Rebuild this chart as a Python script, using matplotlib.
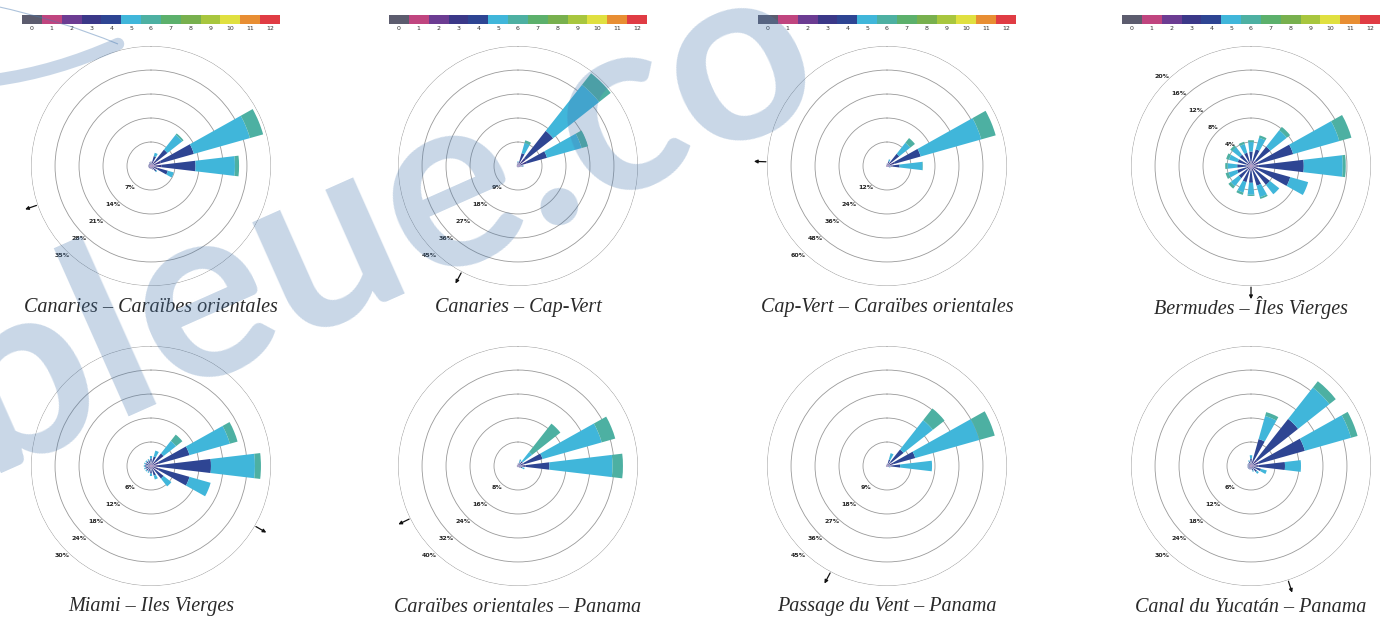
import numpy as np
import matplotlib
matplotlib.use("Agg")
import matplotlib.pyplot as plt
from matplotlib.colors import ListedColormap
from matplotlib.path import Path
from matplotlib.patches import PathPatch

# Beaufort force colour scale (0 .. 12)
beaufort_labels = [str(i) for i in range(13)]
beaufort_colors = ['#5c5c6e', '#c0457f', '#6c3c92', '#3b3888', '#2e4593',
                   '#40b6da', '#4db0a2', '#5cb06c', '#78b04e', '#a8c63e',
                   '#e0e040', '#e88e33', '#e03c44']

# 16 compass sectors, clockwise from north
directions = ['N', 'NNE', 'NE', 'ENE', 'E', 'ESE', 'SE', 'SSE',
              'S', 'SSW', 'SW', 'WSW', 'W', 'WNW', 'NW', 'NNW']
forces = [2, 3, 4, 5, 6]

# Frequency (%) per sector, one row per Beaufort force 2..6
canaries_caraibes = [
    [0.4, 0.5, 0.6, 0.8, 0.8, 0.6, 0.5, 0.4, 0.4, 0.4, 0.4, 0.4, 0.4, 0.4, 0.4, 0.4],
    [0.6, 1.0, 1.5, 2.2, 2.2, 1.5, 0.8, 0.5, 0.4, 0.4, 0.4, 0.4, 0.4, 0.4, 0.4, 0.5],
    [0.3, 1.5, 4.0, 10.0, 10.0, 3.0, 0.7, 0.2, 0, 0, 0, 0, 0, 0, 0, 0.2],
    [0, 1.0, 5.5, 17.0, 11.5, 1.8, 0.3, 0, 0, 0, 0, 0, 0, 0, 0, 0],
    [0, 0, 0.5, 4.0, 1.2, 0, 0, 0, 0, 0, 0, 0, 0, 0, 0, 0],
]
canaries_capvert = [
    [0.4, 0.5, 0.8, 0.8, 0.5, 0.3, 0.3, 0.3, 0.3, 0.3, 0.3, 0.3, 0.3, 0.3, 0.3, 0.3],
    [0.6, 1.5, 3.0, 2.5, 0.8, 0.4, 0.3, 0.2, 0.2, 0.2, 0.2, 0.2, 0.2, 0.2, 0.3, 0.4],
    [0.5, 3.0, 13.0, 8.0, 0.5, 0.2, 0, 0, 0, 0, 0, 0, 0, 0, 0, 0.2],
    [0.3, 4.0, 22.0, 13.5, 0.3, 0, 0, 0, 0, 0, 0, 0, 0, 0, 0, 0],
    [0, 1.0, 5.5, 2.5, 0, 0, 0, 0, 0, 0, 0, 0, 0, 0, 0, 0],
]
capvert_caraibes = [
    [0.4, 0.5, 0.8, 1.0, 0.8, 0.4, 0.3, 0.3, 0.3, 0.3, 0.3, 0.3, 0.3, 0.3, 0.3, 0.3],
    [0.5, 1.0, 2.0, 3.0, 2.0, 0.6, 0.3, 0.2, 0.2, 0.2, 0.2, 0.2, 0.2, 0.2, 0.2, 0.3],
    [0.3, 1.0, 5.0, 13.5, 3.5, 0.5, 0, 0, 0, 0, 0, 0, 0, 0, 0, 0],
    [0, 1.0, 7.0, 31.5, 11.5, 0.3, 0, 0, 0, 0, 0, 0, 0, 0, 0, 0],
    [0, 0, 3.0, 7.5, 0.2, 0, 0, 0, 0, 0, 0, 0, 0, 0, 0, 0],
]
bermudes_vierges = [
    [0.3, 0.3, 0.3, 0.3, 0.3, 0.3, 0.3, 0.3, 0.3, 0.3, 0.3, 0.3, 0.3, 0.3, 0.3, 0.3],
    [0.5, 0.6, 0.8, 1.0, 1.0, 1.0, 0.7, 0.6, 0.5, 0.5, 0.5, 0.5, 0.5, 0.5, 0.5, 0.5],
    [1.6, 2.0, 3.0, 6.0, 7.5, 5.5, 3.0, 2.5, 2.0, 2.0, 1.8, 1.6, 1.5, 1.5, 1.6, 1.5],
    [1.6, 2.0, 3.5, 8.0, 6.5, 3.1, 2.0, 2.0, 2.0, 1.8, 1.7, 1.5, 1.6, 1.5, 1.6, 1.5],
    [0.3, 0.4, 0.7, 2.1, 0.5, 0, 0, 0.3, 0.2, 0.4, 0.5, 0.5, 0.4, 0.5, 0.4, 0.4],
]
miami_vierges = [
    [0.3, 0.3, 0.4, 0.5, 0.5, 0.5, 0.4, 0.3, 0.3, 0.3, 0.3, 0.3, 0.3, 0.3, 0.3, 0.3],
    [0.6, 0.7, 1.0, 1.5, 1.5, 1.5, 1.0, 0.7, 0.6, 0.5, 0.5, 0.5, 0.5, 0.5, 0.5, 0.5],
    [1.0, 1.5, 2.6, 8.0, 13.0, 8.0, 2.6, 1.5, 1.0, 0.7, 0.7, 0.7, 0.7, 0.7, 0.7, 0.7],
    [0.6, 1.5, 4.0, 10.5, 11.0, 5.5, 2.5, 1.0, 0.6, 0.3, 0.3, 0.3, 0.3, 0.3, 0.3, 0.3],
    [0, 0, 2.0, 2.0, 1.5, 0, 0, 0, 0, 0, 0, 0, 0, 0, 0, 0],
]
caraibes_panama = [
    [0.3, 0.3, 0.3, 0.5, 0.5, 0.3, 0.3, 0.2, 0.2, 0.2, 0.2, 0.2, 0.2, 0.2, 0.2, 0.2],
    [0.3, 0.5, 0.7, 1.5, 2.0, 0.5, 0.3, 0.2, 0.2, 0.2, 0.2, 0.2, 0.2, 0.2, 0.2, 0.2],
    [0.2, 0.5, 1.0, 6.5, 8.0, 0.7, 0.2, 0, 0, 0, 0, 0, 0, 0, 0, 0],
    [0, 1.0, 4.0, 20.5, 21.0, 0.8, 0, 0, 0, 0, 0, 0, 0, 0, 0, 0],
    [0, 0, 12.0, 4.7, 3.5, 0, 0, 0, 0, 0, 0, 0, 0, 0, 0, 0],
]
vent_panama = [
    [0.3, 0.3, 0.4, 0.5, 0.4, 0.3, 0.2, 0.2, 0.2, 0.2, 0.2, 0.2, 0.2, 0.2, 0.2, 0.2],
    [0.3, 0.7, 1.5, 2.0, 1.5, 0.4, 0.2, 0.2, 0.2, 0.2, 0.2, 0.2, 0.2, 0.2, 0.2, 0.2],
    [0.2, 1.5, 6.0, 8.5, 3.0, 0.3, 0, 0, 0, 0, 0, 0, 0, 0, 0, 0],
    [0, 2.5, 14.0, 25.0, 12.0, 0.3, 0, 0, 0, 0, 0, 0, 0, 0, 0, 0],
    [0, 0, 5.6, 6.0, 0, 0, 0, 0, 0, 0, 0, 0, 0, 0, 0, 0],
]
yucatan_panama = [
    [0.3, 0.4, 0.5, 0.5, 0.4, 0.3, 0.3, 0.3, 0.3, 0.3, 0.3, 0.3, 0.3, 0.3, 0.3, 0.3],
    [0.6, 1.0, 1.5, 1.5, 1.5, 0.8, 0.6, 0.4, 0.3, 0.3, 0.3, 0.3, 0.3, 0.3, 0.3, 0.4],
    [1.0, 5.6, 13.0, 12.0, 6.6, 1.5, 1.0, 0.5, 0.3, 0.3, 0.3, 0.3, 0.3, 0.3, 0.3, 0.5],
    [0.8, 6.0, 10.0, 12.0, 4.0, 1.5, 0.6, 0.3, 0, 0, 0, 0, 0, 0, 0, 0.3],
    [0, 1.0, 2.0, 1.7, 0, 0, 0, 0, 0, 0, 0, 0, 0, 0, 0, 0],
]

roses = [canaries_caraibes, canaries_capvert, capvert_caraibes, bermudes_vierges,
         miami_vierges, caraibes_panama, vent_panama, yucatan_panama]
titles = ['Canaries – Caraïbes orientales', 'Canaries – Cap-Vert',
          'Cap-Vert – Caraïbes orientales', 'Bermudes – Îles Vierges',
          'Miami – Iles Vierges', 'Caraïbes orientales – Panama',
          'Passage du Vent – Panama', 'Canal du Yucatán – Panama']
ring_steps = [7, 9, 12, 4, 6, 8, 9, 6]          # % between rings (5 rings)
label_bearings = [225, 225, 225, 315, 225, 225, 225, 225]
route_bearings = [251, 208, 272, 180, 120, 244, 208, 162]

W, H = 1380, 619
fig = plt.figure(figsize=(W / 100, H / 100), dpi=100)
fig.patch.set_facecolor('white')

col_x = [151, 518, 887, 1251]
row_y = [166, 466]
title_y = [307, 607]
R = 120  # px radius of outer ring

theta = np.deg2rad(np.arange(16) * 22.5)
width = np.deg2rad(13.5)
cmap = ListedColormap(beaufort_colors)

for k, data in enumerate(roses):
    row, col = divmod(k, 4)
    cx, cy = col_x[col], row_y[row]
    ax = fig.add_axes([(cx - R) / W, 1 - (cy + R) / H, 2 * R / W, 2 * R / H],
                      projection='polar')
    ax.set_theta_zero_location('N')
    ax.set_theta_direction(-1)
    vals = np.array(data, dtype=float)
    bottom = np.zeros(16)
    for i, f in enumerate(forces):
        ax.bar(theta, vals[i], width=width, bottom=bottom,
               color=beaufort_colors[f], edgecolor='none', zorder=3)
        bottom += vals[i]
    step = ring_steps[k]
    rmax = 5 * step
    ax.set_ylim(0, rmax * 1.0005)
    ticks = [step * j for j in range(1, 6)]
    ax.set_yticks(ticks)
    ax.set_yticklabels([])
    ax.tick_params(axis='y', length=0)
    ax.yaxis.grid(True, color='#999999', linewidth=0.6)
    ax.xaxis.grid(False)
    ax.set_xticks([])
    ax.spines['polar'].set_visible(False)
    ax.set_facecolor('none')
    ax.set_axisbelow(True)

    # ring values, set just outside each ring
    lb = np.deg2rad(label_bearings[k])
    for t in ticks:
        ax.text(lb, t + rmax * 6 / R, f'{t}%', fontsize=4.5, fontweight='bold',
                color='#222222', ha='center', va='center', zorder=4)

    # route heading marker just outside the outer ring
    b = np.deg2rad(route_bearings[k])
    ax.annotate('', xy=(b, rmax * 1.11), xytext=(b, rmax * 1.01),
                arrowprops=dict(arrowstyle='-|>', color='#111111', lw=0.9,
                                mutation_scale=5, shrinkA=0, shrinkB=0),
                annotation_clip=False)

    fig.text(cx / W, 1 - title_y[row] / H, titles[k], ha='center', va='center',
             fontsize=14.5, family='Liberation Serif', style='italic',
             color='#2a2a2a')

    if row == 0:
        cax = fig.add_axes([(cx - 129) / W, 1 - 24 / H, 258 / W, 9 / H])
        cax.imshow(np.arange(13)[None, :], cmap=cmap, aspect='auto',
                   extent=(-0.5, 12.5, 0, 1))
        cax.set_yticks([])
        cax.set_xticks(range(13))
        cax.set_xticklabels(beaufort_labels, fontsize=4.5, color='#333333')
        cax.tick_params(axis='x', length=0, pad=1.5)
        for s in cax.spines.values():
            s.set_visible(False)

# site watermark: swoosh and lettering
wm_color = '#4a7ab0'
def px(x, y):
    return (x / W, 1 - y / H)

swoosh = Path([px(-5, 80), px(55, 72), px(118, 44)],
              [Path.MOVETO, Path.CURVE3, Path.CURVE3])
fig.patches.append(PathPatch(swoosh, transform=fig.transFigure, fill=False,
                             edgecolor=wm_color, alpha=0.3, lw=9,
                             capstyle='round'))
arc = Path([px(-5, 6), px(60, 20), px(118, 44)],
           [Path.MOVETO, Path.CURVE3, Path.CURVE3])
fig.patches.append(PathPatch(arc, transform=fig.transFigure, fill=False,
                             edgecolor=wm_color, alpha=0.45, lw=0.8))

fig.text(-0.01, 0.235, 'bleue.co', rotation=24, rotation_mode='anchor',
         ha='left', va='baseline', fontsize=178, color=wm_color, alpha=0.3,
         family='Lato', fontweight='bold', zorder=10)

fig.savefig('out.png', dpi=100, facecolor='white')
